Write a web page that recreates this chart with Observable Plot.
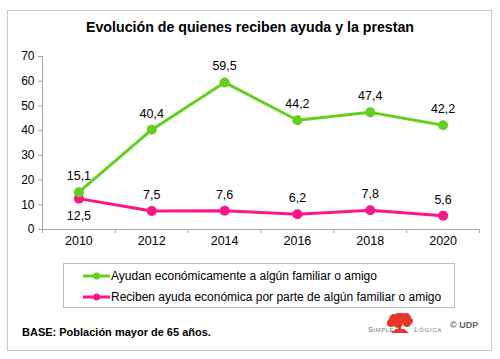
<!DOCTYPE html>
<html><head><meta charset="utf-8">
<script src="https://cdn.jsdelivr.net/npm/d3@7"></script>
<script src="https://cdn.jsdelivr.net/npm/@observablehq/plot@0.6"></script>
<style>
body{margin:0;background:#fff;font-family:Arial,"Liberation Sans",sans-serif;}
#wrap{position:relative;width:500px;height:359px;overflow:hidden;}
#frame{position:absolute;left:7px;top:10px;width:485px;height:341px;border:1px solid #c8c8c8;box-sizing:border-box;}
#title{position:absolute;left:0;width:500px;top:19px;text-align:center;font-weight:bold;font-size:14.2px;color:#000;}
#chart{position:absolute;left:0;top:0;}
#legend{position:absolute;left:63px;top:263px;width:392px;height:45px;border:1px solid #bdbdbd;box-sizing:border-box;font-size:12px;background:#fff;}
.li{position:absolute;left:19px;height:16px;display:flex;align-items:center;white-space:nowrap;}
#base{position:absolute;left:22px;top:326px;font-size:11px;font-weight:bold;}
#logo{position:absolute;left:368px;top:313px;}
</style></head>
<body><div id="wrap">
<div id="frame"></div>
<div id="chart"></div>
<div id="title">Evolución de quienes reciben ayuda y la prestan</div>
<div id="legend"></div>
<div id="base">BASE: Población mayor de 65 años.</div>
<div id="logo"></div>
</div>
<script>
const years = [2010, 2012, 2014, 2016, 2018, 2020];
const ayudan = [15.1, 40.4, 59.5, 44.2, 47.4, 42.2];
const reciben = [12.5, 7.5, 7.6, 6.2, 7.8, 5.6];
const seriesNames = ["Ayudan económicamente a algún familiar o amigo", "Reciben ayuda económica por parte de algún familiar o amigo"];
const colors = ["#62d01c", "#ff1587"];
const yTicks = [0, 10, 20, 30, 40, 50, 60, 70];

const fmt = v => v.toFixed(1).replace(".", ",");
const dA = years.map((y, i) => ({year: y, value: ayudan[i]}));
const dR = years.map((y, i) => ({year: y, value: reciben[i]}));
const sepTicks = [years[0] - 1, ...years.map(y => y + 1)];

const plot = Plot.plot({
  width: 500, height: 359,
  marginLeft: 42, marginRight: 21, marginTop: 56, marginBottom: 130,
  style: {fontFamily: "Arial, 'Liberation Sans', sans-serif", fontSize: "12px", color: "#000", background: "transparent", overflow: "visible"},
  x: {type: "linear", domain: [years[0] - 1, years[years.length - 1] + 1], label: null},
  y: {domain: [0, 70], label: null},
  marks: [
    Plot.axisX({ticks: sepTicks, tickFormat: () => "", tickSize: 4, stroke: "#a6a6a6", label: null}),
    Plot.axisX({ticks: years, tickFormat: d => String(d), tickSize: 0, tickPadding: 7, fontSize: 12.5, fill: "#000", label: null}),
    Plot.axisY({ticks: yTicks, tickSize: 4, tickPadding: 4, stroke: "#a6a6a6", fontSize: 12, fill: "#000", label: null}),
    Plot.ruleY([0], {stroke: "#a6a6a6"}),
    Plot.ruleX([years[0] - 1], {stroke: "#a6a6a6"}),
    Plot.line(dR, {x: "year", y: "value", stroke: colors[1], strokeWidth: 3}),
    Plot.dot(dR, {x: "year", y: "value", fill: colors[1], r: 5}),
    Plot.line(dA, {x: "year", y: "value", stroke: colors[0], strokeWidth: 3}),
    Plot.dot(dA, {x: "year", y: "value", fill: colors[0], r: 5}),
    Plot.text(dA, {x: "year", y: "value", text: d => fmt(d.value), dy: -16, fontSize: 12.5, fill: "#000"}),
    Plot.text(dR, {filter: (d, i) => i > 0, x: "year", y: "value", text: d => fmt(d.value), dy: -16, fontSize: 12.5, fill: "#000"}),
    Plot.text(dR, {filter: (d, i) => i === 0, x: "year", y: "value", text: d => fmt(d.value), dy: 17, fontSize: 12.5, fill: "#000"})
  ]
});
document.getElementById("chart").appendChild(plot);

const leg = document.getElementById("legend");
seriesNames.forEach((name, i) => {
  const el = document.createElement("div");
  el.className = "li";
  el.style.top = (i === 0 ? 4 : 25) + "px";
  el.innerHTML = `<svg width="28" height="10"><line x1="0" y1="5" x2="27" y2="5" stroke="${colors[i]}" stroke-width="3"/><circle cx="13.5" cy="5" r="3.5" fill="${colors[i]}"/></svg><span>${name}</span>`;
  leg.appendChild(el);
});

document.getElementById("logo").innerHTML = `<svg width="120" height="24">
<g fill="#e8372a">
<circle cx="26" cy="6" r="5"/><circle cx="32" cy="4" r="5"/><circle cx="38" cy="5" r="5"/><circle cx="23" cy="10" r="4"/><circle cx="30" cy="10" r="5"/><circle cx="39" cy="10" r="4"/><circle cx="42" cy="8" r="3"/>
<rect x="30" y="10" width="3" height="9"/><path d="M23 20 L41 20 L36 16 L28 16 Z"/>
</g>
<text x="0" y="19" font-size="7.5" fill="#777" letter-spacing="0.5" font-family="Arial">S<tspan font-size="6">IMPLE</tspan></text>
<text x="46" y="19" font-size="7.5" fill="#777" letter-spacing="0.8" font-family="Arial">L<tspan font-size="6">ÓGICA</tspan></text>
<text x="82" y="15" font-size="9" fill="#666" font-weight="bold" font-family="Arial">© UDP</text>
</svg>`;
</script>
</body></html>
